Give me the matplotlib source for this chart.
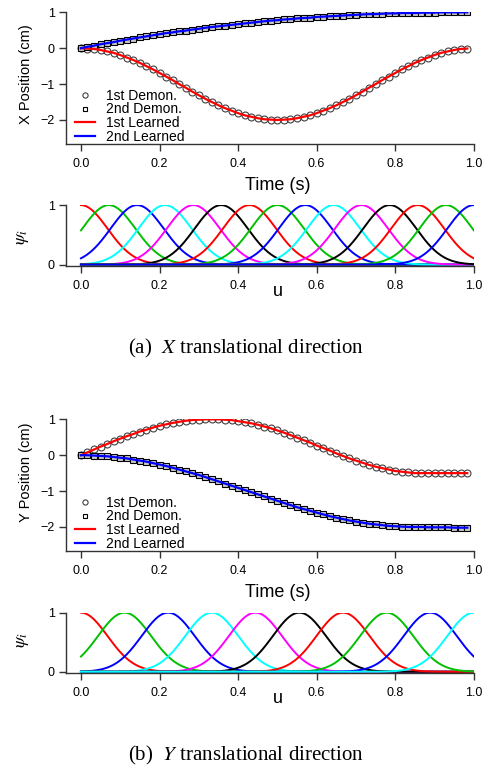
import numpy as np
import matplotlib.pyplot as plt

plt.rcParams['font.family'] = ['Liberation Sans', 'DejaVu Sans']
plt.rcParams['mathtext.fontset'] = 'stix'

# demonstration samples, 60 per trajectory
time = np.arange(60) / 60.0

x_demo1 = [0.00, -0.01, -0.02, -0.05, -0.09, -0.13, -0.19, -0.26, -0.33, -0.41,
           -0.50, -0.59, -0.69, -0.79, -0.89, -1.00, -1.10, -1.21, -1.31, -1.41,
           -1.50, -1.59, -1.67, -1.74, -1.81, -1.87, -1.91, -1.95, -1.98, -1.99,
           -2.00, -1.99, -1.98, -1.95, -1.91, -1.87, -1.81, -1.74, -1.67, -1.59,
           -1.50, -1.41, -1.31, -1.21, -1.10, -1.00, -0.89, -0.79, -0.69, -0.59,
           -0.50, -0.41, -0.33, -0.26, -0.19, -0.13, -0.09, -0.05, -0.02, -0.01]
x_demo2 = [0.00, 0.04, 0.07, 0.11, 0.14, 0.17, 0.21, 0.24, 0.27, 0.30,
           0.33, 0.36, 0.39, 0.42, 0.44, 0.47, 0.49, 0.52, 0.54, 0.57,
           0.59, 0.61, 0.63, 0.65, 0.67, 0.69, 0.71, 0.73, 0.75, 0.77,
           0.78, 0.80, 0.81, 0.83, 0.84, 0.85, 0.87, 0.88, 0.89, 0.90,
           0.91, 0.92, 0.93, 0.94, 0.95, 0.95, 0.96, 0.97, 0.97, 0.98,
           0.98, 0.98, 0.99, 0.99, 0.99, 1.00, 1.00, 1.00, 1.00, 1.00]
y_demo1 = [0.00, 0.08, 0.16, 0.24, 0.31, 0.39, 0.46, 0.53, 0.59, 0.66,
           0.71, 0.77, 0.82, 0.86, 0.90, 0.93, 0.96, 0.98, 0.99, 1.00,
           1.00, 1.00, 0.99, 0.98, 0.95, 0.92, 0.89, 0.85, 0.80, 0.75,
           0.69, 0.63, 0.56, 0.49, 0.42, 0.35, 0.27, 0.20, 0.13, 0.05,
           -0.02, -0.09, -0.15, -0.21, -0.27, -0.32, -0.36, -0.40, -0.44, -0.46,
           -0.48, -0.50, -0.50, -0.50, -0.50, -0.50, -0.50, -0.50, -0.50, -0.50]
y_demo2 = [0.00, 0.00, -0.01, -0.02, -0.03, -0.05, -0.07, -0.09, -0.12, -0.15,
           -0.18, -0.22, -0.26, -0.30, -0.35, -0.40, -0.45, -0.50, -0.55, -0.61,
           -0.67, -0.73, -0.79, -0.85, -0.91, -0.97, -1.03, -1.09, -1.15, -1.21,
           -1.27, -1.33, -1.39, -1.45, -1.50, -1.55, -1.60, -1.65, -1.70, -1.74,
           -1.78, -1.82, -1.85, -1.88, -1.91, -1.93, -1.95, -1.97, -1.98, -1.99,
           -2.00, -2.00, -2.00, -2.01, -2.01, -2.01, -2.01, -2.02, -2.02, -2.02]

# gaussian basis centres and width (psi = exp(-h (u - c)^2))
centers_x = [0.000, 0.071, 0.143, 0.214, 0.286, 0.357, 0.429, 0.500,
             0.571, 0.643, 0.714, 0.786, 0.857, 0.929, 1.000]
centers_y = [0.000, 0.111, 0.222, 0.333, 0.444, 0.556, 0.667, 0.778, 0.889, 1.000]
width_h = 110.0
basis_colors = ['#ff0000', '#00c000', '#0000ff', '#00ffff', '#ff00ff', '#000000']

xticks = [0.0, 0.2, 0.4, 0.6, 0.8, 1.0]


def style(ax, ylim, yticks):
    ax.set_xlim(-0.038, 1.0)
    ax.set_ylim(*ylim)
    ax.set_xticks(xticks)
    ax.set_xticklabels(['%.1f' % v for v in xticks])
    ax.set_yticks(yticks)
    ax.spines['top'].set_visible(False)
    ax.spines['right'].set_visible(False)
    for s in ('left', 'bottom'):
        ax.spines[s].set_color('#333333')
        ax.spines[s].set_linewidth(1.0)
    ax.tick_params(direction='out', length=5, width=1.0, colors='#333333',
                   labelcolor='black', labelsize=9)
    ax.tick_params(axis='x', pad=5)
    ax.tick_params(axis='y', pad=3)


def position_plot(ax, d1, d2, ylabel, ylab_y):
    ax.plot(time, d1, 'o', ms=5, mfc='none', mec='#404040', mew=0.8, label='1st Demon.')
    ax.plot(time, d2, 's', ms=4.5, mfc='#c8c8c8', mec='black', mew=0.8, label='2nd Demon.')
    ax.plot(time, d1, color='red', lw=1.6, label='1st Learned')
    ax.plot(time, d2, color='blue', lw=1.6, label='2nd Learned')
    style(ax, (-2.67, 1.0), [-2, -1, 0, 1])
    ax.set_xlabel('Time (s)', fontsize=13)
    ax.xaxis.set_label_coords(0.52, -0.25)
    ax.set_ylabel(ylabel, fontsize=10.5)
    ax.yaxis.set_label_coords(-0.081, ylab_y)
    leg = ax.legend(loc='upper left', bbox_to_anchor=(0.022, 0.42), frameon=False,
                    fontsize=10, handlelength=1.45, handletextpad=0.8,
                    labelspacing=-0.02, borderpad=0, borderaxespad=0,
                    markerscale=0.75)
    for h in leg.legend_handles[:2]:
        h.set_markerfacecolor('white')


def basis_plot(ax, centers, ylab_y):
    u = np.linspace(0, 1, 400)
    for i, c in enumerate(centers):
        ax.plot(u, np.exp(-width_h * (u - c) ** 2),
                color=basis_colors[i % len(basis_colors)], lw=1.4)
    style(ax, (-0.025, 1.0), [0, 1])
    ax.set_xlabel('u', fontsize=13)
    ax.xaxis.set_label_coords(0.52, -0.27)
    ax.set_ylabel(r'$\psi_i$', fontsize=13)
    ax.yaxis.set_label_coords(-0.085, ylab_y)


fig = plt.figure(figsize=(4.89, 7.69), dpi=100)

ax1 = fig.add_axes([0.135, 0.8127, 0.834, 0.1713])
position_plot(ax1, x_demo1, x_demo2, 'X Position (cm)', 0.534)
ax2 = fig.add_axes([0.135, 0.654, 0.834, 0.0793])
basis_plot(ax2, centers_x, 0.48)

ax3 = fig.add_axes([0.135, 0.2835, 0.834, 0.1712])
position_plot(ax3, y_demo1, y_demo2, 'Y Position (cm)', 0.598)
ax4 = fig.add_axes([0.135, 0.1245, 0.834, 0.0788])
basis_plot(ax4, centers_y, 0.55)

cap = dict(ha='center', va='center', fontsize=15, family='Liberation Serif')
fig.text(0.503, 1 - 348 / 769, r'(a)  $\mathit{X}$ translational direction', **cap)
fig.text(0.503, 1 - 755 / 769, r'(b)  $\mathit{Y}$ translational direction', **cap)

fig.savefig('out.png', dpi=100)
